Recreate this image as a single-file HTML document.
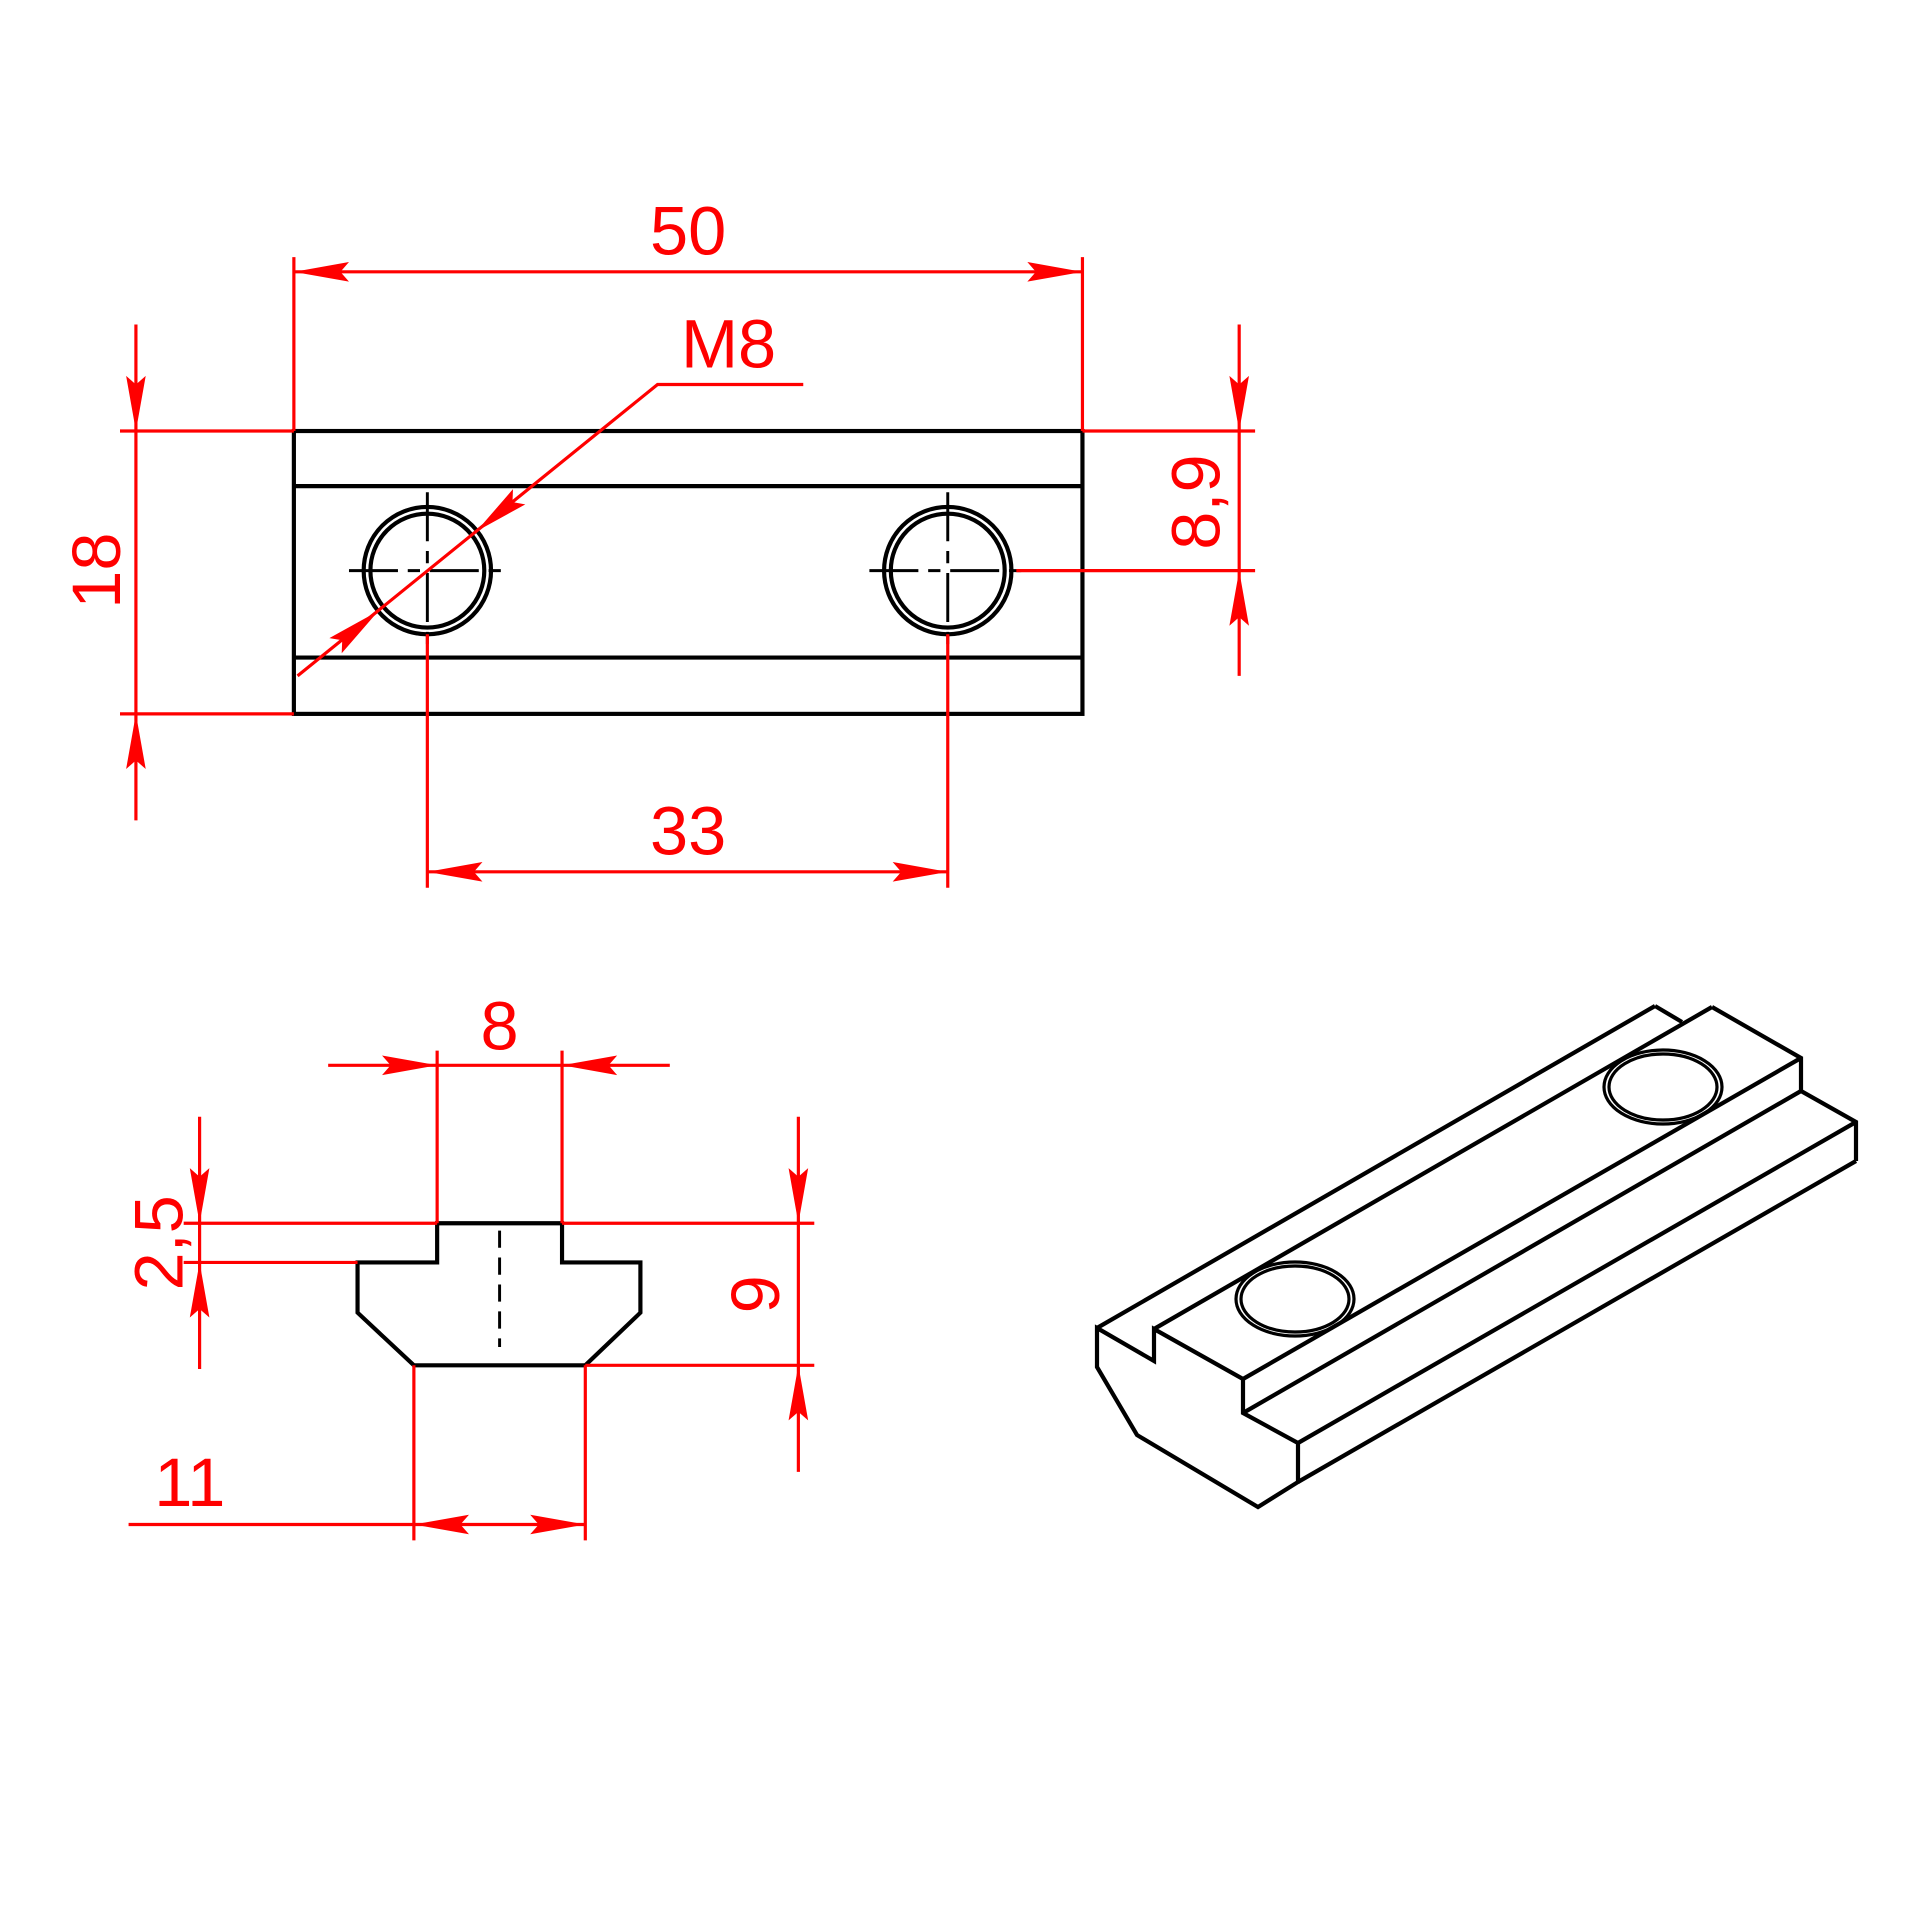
<!DOCTYPE html>
<html><head><meta charset="utf-8"><style>
html,body{margin:0;padding:0;background:#fff;}
svg{display:block;}
text{font-family:"Liberation Sans",sans-serif;fill:#ff0000;font-size:56px;}
</style></head><body>
<svg width="1920" height="1920" viewBox="0 0 1920 1920" xmlns="http://www.w3.org/2000/svg">
<defs>
<polygon id="ar" points="0,0 -45,-8 -38,0 -45,8" fill="#ff0000"/>
</defs>
<g transform="scale(1.22449)">
<!-- top view -->
<g fill="none" stroke="#000" stroke-width="3.4">
<rect x="240" y="352" width="644" height="231"/>
<line x1="240" y1="397" x2="884" y2="397"/>
<line x1="240" y1="537" x2="884" y2="537"/>
<circle cx="349" cy="466" r="52"/>
<circle cx="349" cy="466" r="46.5"/>
<circle cx="774" cy="466" r="52"/>
<circle cx="774" cy="466" r="46.5"/>
</g>
<g stroke="#000" stroke-width="2.4" stroke-dasharray="40,8,10,8">
<line x1="285" y1="466" x2="415" y2="466"/>
<line x1="349" y1="402" x2="349" y2="530"/>
<line x1="710" y1="466" x2="838" y2="466"/>
<line x1="774" y1="402" x2="774" y2="530"/>
</g>
<g stroke="#ff0000" stroke-width="2.6" fill="none">
<line x1="240" y1="210" x2="240" y2="352"/>
<line x1="884" y1="210" x2="884" y2="352"/>
<line x1="240" y1="222" x2="884" y2="222"/>
<line x1="98" y1="352" x2="240" y2="352"/>
<line x1="98" y1="583" x2="240" y2="583"/>
<line x1="111" y1="265" x2="111" y2="670"/>
<line x1="884" y1="352" x2="1025" y2="352"/>
<line x1="830" y1="466" x2="1025" y2="466"/>
<line x1="1012" y1="265" x2="1012" y2="552"/>
<line x1="349" y1="518" x2="349" y2="725"/>
<line x1="774" y1="518" x2="774" y2="725"/>
<line x1="349" y1="712" x2="774" y2="712"/>
<polyline points="243,552 537,314 656,314"/>
</g>
<use href="#ar" transform="translate(240,222) rotate(180)"/>
<use href="#ar" transform="translate(884,222)"/>
<use href="#ar" transform="translate(349,712) rotate(180)"/>
<use href="#ar" transform="translate(774,712)"/>
<use href="#ar" transform="translate(111,352) rotate(90)"/>
<use href="#ar" transform="translate(111,583) rotate(-90)"/>
<use href="#ar" transform="translate(1012,352) rotate(90)"/>
<use href="#ar" transform="translate(1012,466) rotate(-90)"/>
<use href="#ar" transform="translate(309,499) rotate(-39)"/>
<use href="#ar" transform="translate(389,434) rotate(141)"/>
<text x="562" y="208" text-anchor="middle">50</text>
<text x="595" y="300" text-anchor="middle">M8</text>
<text x="562" y="698" text-anchor="middle">33</text>
<text transform="translate(98,466) rotate(-90)" text-anchor="middle">18</text>
<text transform="translate(996,410) rotate(-90)" text-anchor="middle">8,9</text>

<!-- section -->
<polygon points="357,999 459,999 459,1031 523,1031 523,1072 478,1115 338,1115 292,1072 292,1031 357,1031" fill="none" stroke="#000" stroke-width="3.4"/>
<line x1="408" y1="1005" x2="408" y2="1100" stroke="#000" stroke-width="2.4" stroke-dasharray="14,8"/>
<g stroke="#ff0000" stroke-width="2.6" fill="none">
<line x1="357" y1="858" x2="357" y2="999"/>
<line x1="459" y1="858" x2="459" y2="999"/>
<line x1="268" y1="870" x2="547" y2="870"/>
<line x1="150" y1="999" x2="357" y2="999"/>
<line x1="150" y1="1031" x2="292" y2="1031"/>
<line x1="163" y1="912" x2="163" y2="1118"/>
<line x1="459" y1="999" x2="665" y2="999"/>
<line x1="478" y1="1115" x2="665" y2="1115"/>
<line x1="652" y1="912" x2="652" y2="1202"/>
<line x1="338" y1="1115" x2="338" y2="1258"/>
<line x1="478" y1="1115" x2="478" y2="1258"/>
<line x1="105" y1="1245" x2="478" y2="1245"/>
</g>
<use href="#ar" transform="translate(357,870)"/>
<use href="#ar" transform="translate(459,870) rotate(180)"/>
<use href="#ar" transform="translate(163,999) rotate(90)"/>
<use href="#ar" transform="translate(163,1031) rotate(-90)"/>
<use href="#ar" transform="translate(652,999) rotate(90)"/>
<use href="#ar" transform="translate(652,1115) rotate(-90)"/>
<use href="#ar" transform="translate(338,1245) rotate(180)"/>
<use href="#ar" transform="translate(478,1245)"/>
<text x="408" y="857" text-anchor="middle">8</text>
<text x="155" y="1230" text-anchor="middle">11</text>
<text transform="translate(149,1015) rotate(-90)" text-anchor="middle">2,5</text>
<text transform="translate(636,1057) rotate(-90)" text-anchor="middle">9</text>
</g>

<!-- isometric (real coords) -->
<g fill="none" stroke="#000" stroke-width="4.2" stroke-linejoin="miter">
<polygon points="1097,1328 1154,1361 1154,1329 1243,1379 1243,1413 1298,1443 1298,1482 1258,1507 1137,1435 1097,1367"/>
<line x1="1097" y1="1328" x2="1655" y2="1006"/>
<line x1="1655" y1="1006" x2="1682" y2="1022"/>
<line x1="1154" y1="1329" x2="1712" y2="1007"/>
<polyline points="1712,1007 1801,1058 1801,1091 1856,1122 1856,1161"/>
<line x1="1243" y1="1379" x2="1801" y2="1058"/>
<line x1="1243" y1="1413" x2="1801" y2="1091"/>
<line x1="1298" y1="1443" x2="1856" y2="1122"/>
<line x1="1298" y1="1482" x2="1856" y2="1161"/>
</g>
<g fill="none" stroke="#000" stroke-width="3.2">
<ellipse cx="1663" cy="1087" rx="59" ry="37"/>
<ellipse cx="1663" cy="1087" rx="54" ry="33"/>
<ellipse cx="1295" cy="1299" rx="59" ry="37"/>
<ellipse cx="1295" cy="1299" rx="54" ry="33"/>
</g>
</svg>
</body></html>
